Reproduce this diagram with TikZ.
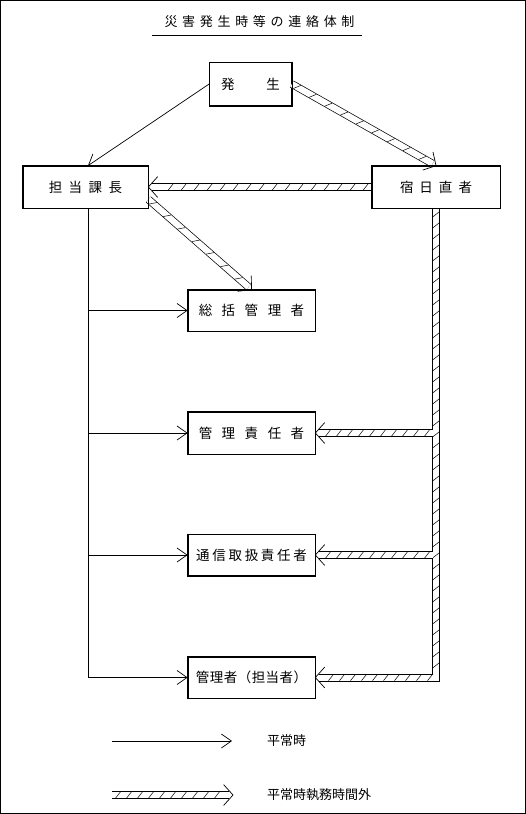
\documentclass[tikz,border=0pt]{standalone}
\usepackage{fontspec}
\setmainfont{Noto Sans CJK JP}
\usetikzlibrary{arrows.meta,calc,decorations.markings}

\newcommand\sgap{0pt}
\newcommand\spacedtext[2]{\renewcommand\sgap{#1}\spacedtexti#2\relax}
\def\spacedtexti#1{\ifx#1\relax\else#1\expandafter\spacedtextj\fi}
\def\spacedtextj#1{\ifx#1\relax\else\hspace{\sgap}#1\expandafter\spacedtextj\fi}

\tikzset{
  box/.style={draw, line width=0.7pt, inner sep=0pt, font=\fontsize{13.5}{16}\selectfont},
  plainarrow/.style={line width=0.7pt, -{Straight Barb[length=10pt,width=14pt]}},
  band/.style={line width=0.7pt, double, double distance=6.3pt},
  bandline/.style={line width=0.7pt, line join=miter},
  hatchA/.style={decoration={markings, mark=between positions 6pt and -6pt step #1 with {\draw[line width=0.5pt] (-2.5pt,-3.2pt) -- (2.5pt,3.2pt);}}, decorate},
  hatchA/.default=11pt,
  hatchB/.style={decoration={markings, mark=between positions 6pt and -6pt step #1 with {\draw[line width=0.5pt] (-2.5pt,3.2pt) -- (2.5pt,-3.2pt);}}, decorate},
  hatchB/.default=11pt,
  vhead/.style={line width=0.7pt},
  legendtext/.style={anchor=west, inner sep=0pt, font=\fontsize{13}{15}\selectfont},
}

\newcommand\hatcharrow[3][11pt]{%
  \draw[band] (#2) -- ($(#3)!4pt!(#2)$);
  \path[hatchA=#1] (#2) -- ($(#3)!4pt!(#2)$);
  \draw[vhead] ($(#3)!14pt!48:(#2)$) -- (#3) -- ($(#3)!14pt!-48:(#2)$);
}

\begin{document}
\begin{tikzpicture}[x=1pt,y=-1pt]
\useasboundingbox (0,0) rectangle (526,814);
\draw[line width=0.7pt] (0.5,0.5) rectangle (525.5,813.5);

% title
\node[inner sep=0pt, font=\fontsize{13}{15}\selectfont] (title) at (259.5,22) {\spacedtext{4.7pt}{災害発生時等の連絡体制}};
\coordinate (ulA) at (152,35);
\coordinate (ulB) at (362,35);
\draw[line width=0.7pt] (ulA) -- (ulB);

% boxes
\node[box, minimum width=82pt, minimum height=43pt] (hassei) at (250.5,84) {\spacedtext{32pt}{発生}};
\node[box, minimum width=125pt, minimum height=42pt] (tantou) at (85.5,187) {\spacedtext{6.5pt}{担当課長}};
\node[box, minimum width=128pt, minimum height=42pt] (shuku) at (436,187) {\spacedtext{6pt}{宿日直者}};
\node[box, minimum width=127pt, minimum height=41pt] (soukatsu) at (251.5,310.5) {\spacedtext{9.5pt}{総括管理者}};
\node[box, minimum width=127pt, minimum height=42pt] (kanri) at (251.5,433) {\spacedtext{9.5pt}{管理責任者}};
\node[box, minimum width=127pt, minimum height=41pt] (tsushin) at (251.5,555) {\spacedtext{2.7pt}{通信取扱責任者}};
\node[box, minimum width=127pt, minimum height=41pt] (kanrisha) at (251.5,677.5) {\spacedtext{0.5pt}{管理者（担当者）}};

% plain connectors
\coordinate (trunk) at (88,0);
\draw[plainarrow] (hassei.west) -- (tantou.north -| trunk);
\draw[line width=0.7pt] (tantou.south -| trunk) -- (kanrisha.west -| trunk);
\draw[plainarrow] (soukatsu.west -| trunk) -- (soukatsu.west);
\draw[plainarrow] (kanri.west -| trunk) -- (kanri.west);
\draw[plainarrow] (tsushin.west -| trunk) -- (tsushin.west);
\draw[plainarrow] (kanrisha.west -| trunk) -- (kanrisha.west);

% hatched connectors
\hatcharrow[18pt]{hassei.east}{shuku.north}
\hatcharrow[13pt]{shuku.west}{tantou.east}
\coordinate (tstart) at ($(tantou.south east)+(0,-9)$);
\hatcharrow[19pt]{tstart}{soukatsu.north}

% L-shaped band from shuku down and left to kanrisha
\coordinate (corner) at (shuku.south |- kanrisha.east);
\coordinate (bend) at ($(kanrisha.east)+(4,0)$);
\coordinate (vleft) at (433,0);
\draw[bandline] ($(shuku.south)+(3.5,0)$) |- ($(bend)+(0,3.5)$);
\draw[bandline] ($(shuku.south)+(-3.5,0)$) |- ($(bend)+(0,-3.5)$);
\path[hatchB] (shuku.south) -- (corner);
\path[hatchA] (corner) -- (bend);
\draw[vhead] ($(kanrisha.east)!14pt!48:(corner)$) -- (kanrisha.east) -- ($(kanrisha.east)!14pt!-48:(corner)$);
\coordinate (b1) at (kanri.east -| vleft);
\coordinate (b2) at (tsushin.east -| vleft);
\hatcharrow{b1}{kanri.east}
\hatcharrow{b2}{tsushin.east}

% redraw box borders on top
\foreach \n in {hassei,tantou,shuku,soukatsu,kanri,tsushin,kanrisha}
  \draw[line width=0.7pt] (\n.south west) rectangle (\n.north east);

% legend
\coordinate (l1s) at (112,741);
\coordinate (l1e) at (232,741);
\draw[plainarrow] (l1s) -- (l1e);
\node[legendtext] (l1t) at (267,741) {平常時};
\coordinate (l2s) at (112,795);
\coordinate (l2e) at (233,795);
\hatcharrow{l2s}{l2e}
\node[legendtext] (l2t) at (267,795) {平常時執務時間外};
\end{tikzpicture}
\end{document}
